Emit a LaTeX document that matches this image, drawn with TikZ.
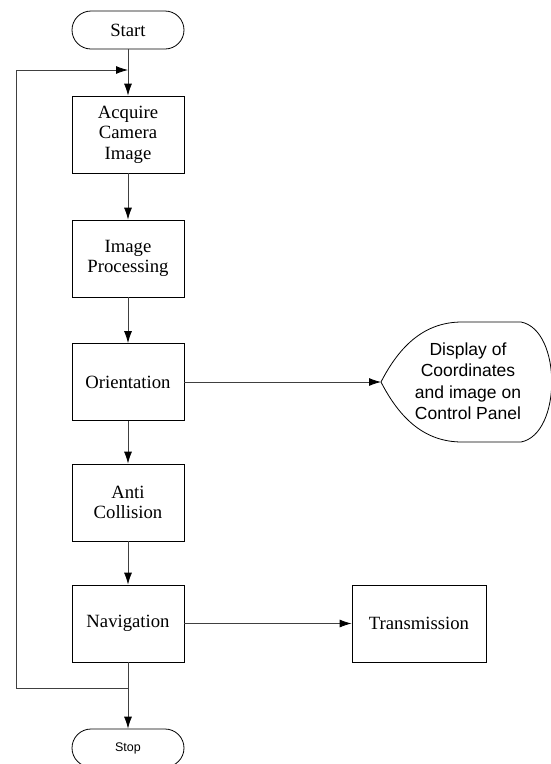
\documentclass[tikz,border=0pt]{standalone}
\usepackage{fontspec}
\setmainfont{Liberation Serif}
\newfontfamily\arialfont{Liberation Sans}
\usetikzlibrary{arrows.meta,positioning}

\tikzset{
    stepbox/.style={draw, line width=0.8pt, minimum width=112pt, minimum height=77pt,
        align=center, font=\fontsize{18.7}{20.5}\selectfont, inner sep=0pt},
    termbox/.style={draw, line width=0.8pt, rounded corners=19pt, minimum width=112pt,
        minimum height=38pt, inner sep=0pt},
    arr/.style={-{Latex[length=12pt,width=8pt,black]}, line width=0.8pt, black!75},
}

\begin{document}
\begin{tikzpicture}[x=1pt, y=-1pt]
    \useasboundingbox (0,0) rectangle (551,764);
    % terminals
    \node[termbox, font=\fontsize{18.7}{20}\selectfont] (start) at (128,30) {Start};
    \node[termbox, font=\arialfont\fontsize{12.5}{15}\selectfont] (stop) at (128,748) {Stop};
    % process steps
    \node[stepbox] (acquire) at (128,134.5) {Acquire\\Camera\\Image};
    \node[stepbox] (improc) at (128,258.5) {Image\\Processing};
    \node[stepbox] (orient) at (128,382) {Orientation};
    \node[stepbox] (anti) at (128,502.5) {Anti\\Collision};
    \node[stepbox] (nav) at (128,623.5) {Navigation};
    \node[stepbox, minimum width=134pt] (trans) at (419,623.5) {Transmission};
    % display shape
    \draw[line width=0.8pt] (381,382) .. controls (400,345) and (425,322) .. (462,322)
        -- (521,322) .. controls (562,330) and (562,434) .. (521,442)
        -- (462,442) .. controls (425,442) and (400,419) .. (381,382) -- cycle;
    \node[align=center, font=\arialfont\fontsize{17.5}{21.5}\selectfont] (display) at (468,381)
        {Display of\\Coordinates\\and image on\\Control Panel};
    \coordinate (disp) at (381,382);
    \coordinate (back) at (128,70);
    \coordinate (loop) at (128,688);
    % connectors
    \draw[arr] (start) -- (acquire);
    \draw[arr] (acquire) -- (improc);
    \draw[arr] (improc) -- (orient);
    \draw[arr] (orient) -- (anti);
    \draw[arr] (anti) -- (nav);
    \draw[arr] (nav) -- (stop);
    \draw[arr] (orient) -- (disp);
    \draw[arr] (nav) -- (trans);
    \draw[arr] (loop) -- ++(-112,0) |- (back);
\end{tikzpicture}
\end{document}
